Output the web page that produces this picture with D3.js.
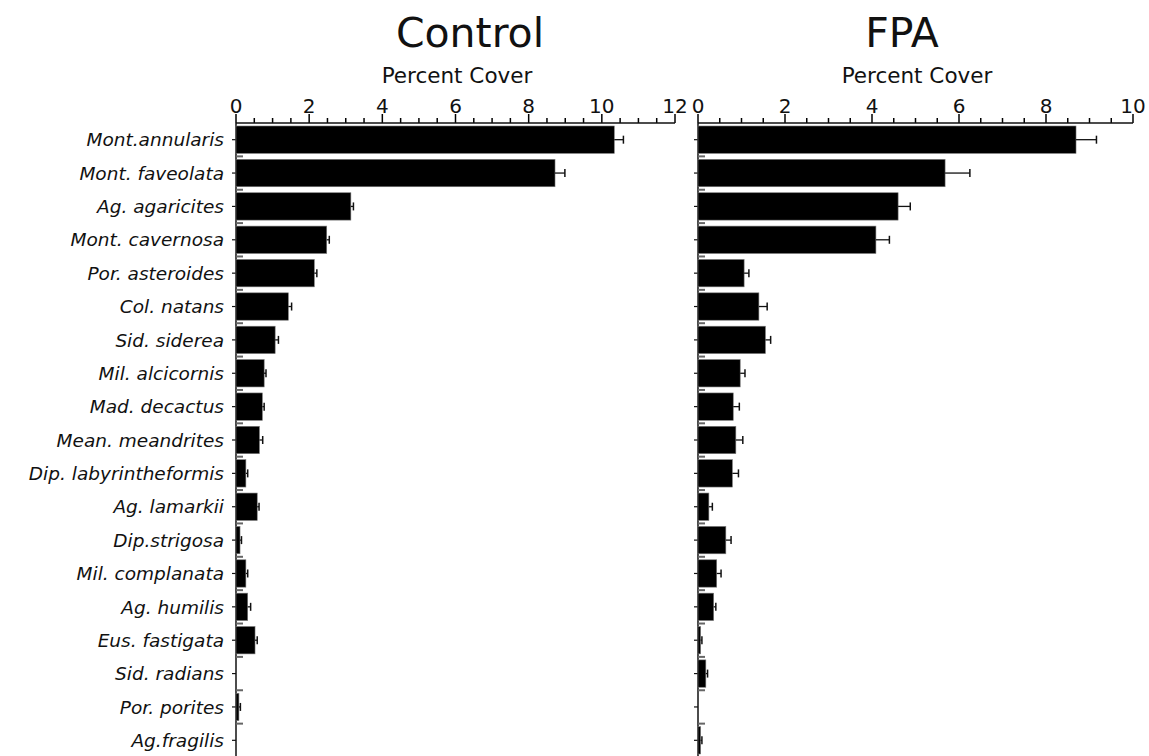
<!DOCTYPE html>
<html lang="en">
  <head>
    <meta charset="UTF-8" />
    <title>Percent Cover: Control vs FPA</title>
    <script src="https://d3js.org/d3.v7.min.js"></script>
    <style>
      body { margin: 0; background: #fff; }
      text { font-family: "DejaVu Sans", sans-serif; fill: #111; }
      .species { font-style: italic; }
    </style>
  </head>
  <body>
    <div id="viz"></div>
    <script>
      // species, top to bottom
      const species = [
        "Mont.annularis", "Mont. faveolata", "Ag. agaricites", "Mont. cavernosa",
        "Por. asteroides", "Col. natans", "Sid. siderea", "Mil. alcicornis",
        "Mad. decactus", "Mean. meandrites", "Dip. labyrintheformis", "Ag. lamarkii",
        "Dip.strigosa", "Mil. complanata", "Ag. humilis", "Eus. fastigata",
        "Sid. radians", "Por. porites", "Ag.fragilis"
      ];

      // percent cover, mean and upper error
      const controlMean = [10.34, 8.72, 3.14, 2.48, 2.14, 1.43, 1.07, 0.77, 0.72, 0.64,
                           0.27, 0.58, 0.11, 0.27, 0.32, 0.52, 0, 0.08, 0];
      const controlErr  = [0.25, 0.27, 0.07, 0.07, 0.07, 0.09, 0.09, 0.05, 0.05, 0.09,
                           0.05, 0.05, 0.04, 0.05, 0.08, 0.06, 0, 0.04, 0];
      const fpaMean = [8.69, 5.68, 4.60, 4.09, 1.06, 1.40, 1.55, 0.97, 0.81, 0.87,
                       0.79, 0.25, 0.64, 0.43, 0.36, 0.06, 0.18, 0, 0.06];
      const fpaErr  = [0.47, 0.57, 0.28, 0.31, 0.11, 0.19, 0.12, 0.11, 0.14, 0.16,
                       0.14, 0.08, 0.12, 0.10, 0.05, 0.03, 0.04, 0, 0.03];

      const controlTicks = [0, 2, 4, 6, 8, 10, 12];
      const fpaTicks = [0, 2, 4, 6, 8, 10];

      const W = 1149, H = 756;
      const svg = d3.select("#viz").append("svg")
        .attr("width", W).attr("height", H);

      const axisY = 123;
      const y = d3.scaleBand()
        .domain(species)
        .range([axisY, 757])
        .paddingInner(0.18)
        .paddingOuter(0.09);

      function panel(opts) {
        const x = d3.scaleLinear().domain([0, opts.max]).range([opts.x0, opts.x1]);
        const g = svg.append("g");

        // title + axis label
        g.append("text")
          .attr("x", opts.titleX).attr("y", 47)
          .attr("text-anchor", "middle")
          .style("font-size", "41px")
          .text(opts.title);
        g.append("text")
          .attr("x", opts.labelX).attr("y", 83)
          .attr("text-anchor", "middle")
          .style("font-size", "21.5px")
          .text("Percent Cover");

        // ticks every 0.5: long at the labelled values, short between
        const allTicks = d3.range(0, opts.max * 2 + 1).map(d => d / 2);
        g.append("g").attr("class", "ticks")
          .selectAll("line").data(allTicks).join("line")
          .attr("x1", d => x(d)).attr("x2", d => x(d))
          .attr("y1", axisY)
          .attr("y2", d => axisY - (d % 2 === 0 ? 9 : 5))
          .attr("stroke", "#000").attr("stroke-width", 1.5);

        // axis line + labels
        g.append("line")
          .attr("x1", opts.x0).attr("x2", opts.x1)
          .attr("y1", axisY).attr("y2", axisY)
          .attr("stroke", "#111").attr("stroke-width", 1.5);
        g.append("g").attr("class", "tick-labels")
          .selectAll("text").data(opts.ticks).join("text")
          .attr("x", d => x(d)).attr("y", axisY - 10)
          .attr("text-anchor", "middle")
          .style("font-size", "20px")
          .text(d3.format("d"));

        // y axis line
        g.append("line")
          .attr("x1", opts.x0).attr("x2", opts.x0)
          .attr("y1", axisY).attr("y2", H)
          .attr("stroke", "#111").attr("stroke-width", 1.5);

        // small ticks at row centres (left) and band edges (right)
        g.append("g").attr("class", "y-ticks")
          .selectAll("line").data(species).join("line")
          .attr("x1", opts.x0 - 4).attr("x2", opts.x0)
          .attr("y1", d => y(d) + y.bandwidth() / 2)
          .attr("y2", d => y(d) + y.bandwidth() / 2)
          .attr("stroke", "#111").attr("stroke-width", 1.2);
        g.append("g").attr("class", "edges")
          .selectAll("line").data(species.slice(1)).join("line")
          .attr("x1", opts.x0).attr("x2", opts.x0 + 7)
          .attr("y1", d => y(d) - 3).attr("y2", d => y(d) - 3)
          .attr("stroke", "#666").attr("stroke-width", 2);

        // bars
        const rows = species.map((s, i) => ({ s, m: opts.mean[i], e: opts.err[i] }));
        g.append("g").attr("class", "bars")
          .selectAll("rect").data(rows.filter(d => d.m > 0)).join("rect")
          .attr("x", opts.x0)
          .attr("y", d => y(d.s))
          .attr("width", d => Math.max(1.5, x(d.m) - opts.x0))
          .attr("height", y.bandwidth())
          .attr("fill", "#000")
          .attr("stroke", "#777").attr("stroke-width", 0.6);

        // upper error bars
        const eb = g.append("g").attr("class", "errors")
          .selectAll("g").data(rows.filter(d => d.e > 0)).join("g");
        eb.append("line")
          .attr("x1", d => x(d.m)).attr("x2", d => x(d.m + d.e))
          .attr("y1", d => y(d.s) + y.bandwidth() / 2)
          .attr("y2", d => y(d.s) + y.bandwidth() / 2)
          .attr("stroke", "#111").attr("stroke-width", 1.3);
        eb.append("line")
          .attr("x1", d => x(d.m + d.e)).attr("x2", d => x(d.m + d.e))
          .attr("y1", d => y(d.s) + y.bandwidth() / 2 - 4)
          .attr("y2", d => y(d.s) + y.bandwidth() / 2 + 4)
          .attr("stroke", "#111").attr("stroke-width", 1.5);
      }

      panel({ title: "Control", titleX: 470, labelX: 457, x0: 236, x1: 675, max: 12,
              ticks: controlTicks, mean: controlMean, err: controlErr });
      panel({ title: "FPA", titleX: 902, labelX: 917, x0: 698, x1: 1133, max: 10,
              ticks: fpaTicks, mean: fpaMean, err: fpaErr });

      // species labels
      svg.append("g").selectAll("text").data(species).join("text")
        .attr("class", "species")
        .attr("x", 224)
        .attr("y", d => y(d) + y.bandwidth() / 2)
        .attr("dy", "0.36em")
        .attr("text-anchor", "end")
        .style("font-size", "18.5px")
        .text(d => d);
    </script>
  </body>
</html>
